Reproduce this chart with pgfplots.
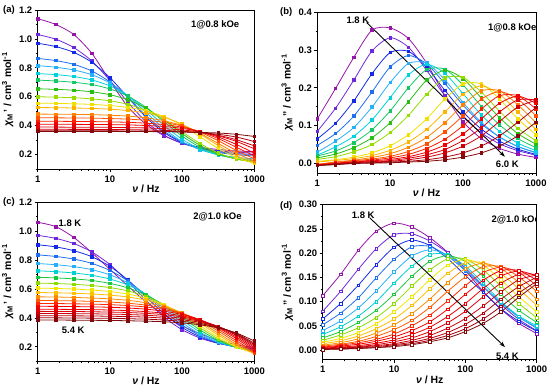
\documentclass[border=0pt]{standalone}
\usepackage{fontspec}
\setmainfont{Liberation Sans}
\usepackage{pgfplots}
\usepackage{pgfplotstable}
\pgfplotsset{compat=1.18}
\usetikzlibrary{arrows.meta}

\definecolor{ca1}{RGB}{150,20,170}\definecolor{ca2}{RGB}{110,40,220}\definecolor{ca3}{RGB}{20,40,230}
\definecolor{ca4}{RGB}{30,110,240}\definecolor{ca5}{RGB}{40,175,250}\definecolor{ca6}{RGB}{0,210,220}
\definecolor{ca7}{RGB}{20,200,100}\definecolor{ca8}{RGB}{40,190,20}\definecolor{ca9}{RGB}{150,220,0}
\definecolor{ca10}{RGB}{240,225,0}\definecolor{ca11}{RGB}{255,180,0}\definecolor{ca12}{RGB}{255,130,0}
\definecolor{ca13}{RGB}{255,80,0}\definecolor{ca14}{RGB}{250,30,0}\definecolor{ca15}{RGB}{240,0,0}
\definecolor{ca16}{RGB}{225,0,10}\definecolor{ca17}{RGB}{205,0,10}\definecolor{ca18}{RGB}{170,0,10}
\definecolor{ca19}{RGB}{130,10,10}

\definecolor{cc1}{RGB}{150,20,170}\definecolor{cc2}{RGB}{110,40,220}\definecolor{cc3}{RGB}{20,40,230}
\definecolor{cc4}{RGB}{30,110,240}\definecolor{cc5}{RGB}{40,175,250}\definecolor{cc6}{RGB}{0,210,210}
\definecolor{cc7}{RGB}{30,200,60}\definecolor{cc8}{RGB}{140,220,0}\definecolor{cc9}{RGB}{240,230,0}
\definecolor{cc10}{RGB}{255,190,0}\definecolor{cc11}{RGB}{255,140,0}\definecolor{cc12}{RGB}{255,90,0}
\definecolor{cc13}{RGB}{255,40,0}\definecolor{cc14}{RGB}{245,0,0}\definecolor{cc15}{RGB}{235,0,0}
\definecolor{cc16}{RGB}{220,0,10}\definecolor{cc17}{RGB}{205,0,10}\definecolor{cc18}{RGB}{185,0,10}
\definecolor{cc19}{RGB}{160,0,10}\definecolor{cc20}{RGB}{130,10,10}

\pgfplotstableread{
name f0 f1 f2 f3 f4 f5 f6 f7 f8 f9 f10 f11 f12
nu 1 1.778 3.162 5.623 10 17.78 31.62 56.23 100 177.8 316.2 562.3 1000
c1 1.140 1.100 1.030 0.900 0.710 0.530 0.410 0.330 0.280 0.250 0.235 0.225 0.220
c2 1.030 0.998 0.940 0.847 0.713 0.561 0.428 0.334 0.277 0.244 0.226 0.216 0.210
c3 0.970 0.947 0.907 0.838 0.732 0.595 0.458 0.352 0.283 0.243 0.220 0.207 0.200
c4 0.865 0.850 0.824 0.778 0.702 0.594 0.470 0.362 0.286 0.240 0.214 0.199 0.190
c5 0.815 0.804 0.785 0.752 0.695 0.606 0.492 0.379 0.290 0.233 0.200 0.181 0.170
c6 0.760 0.753 0.740 0.716 0.675 0.607 0.511 0.402 0.306 0.238 0.197 0.174 0.160
c7 0.715 0.709 0.700 0.684 0.654 0.604 0.527 0.427 0.328 0.250 0.200 0.171 0.155
c8 0.655 0.651 0.645 0.634 0.614 0.579 0.521 0.439 0.345 0.263 0.205 0.170 0.150
c9 0.600 0.597 0.593 0.585 0.572 0.547 0.506 0.441 0.358 0.276 0.211 0.169 0.145
c10 0.555 0.554 0.551 0.547 0.539 0.526 0.503 0.463 0.401 0.322 0.242 0.180 0.140
c11 0.525 0.524 0.522 0.519 0.514 0.504 0.488 0.458 0.410 0.341 0.262 0.193 0.145
c12 0.480 0.479 0.478 0.476 0.472 0.466 0.454 0.434 0.400 0.346 0.277 0.209 0.155
c13 0.455 0.454 0.453 0.452 0.449 0.445 0.437 0.422 0.397 0.355 0.296 0.229 0.170
c14 0.430 0.430 0.429 0.428 0.426 0.423 0.417 0.407 0.389 0.359 0.311 0.251 0.190
c15 0.410 0.410 0.409 0.408 0.407 0.405 0.401 0.394 0.381 0.359 0.322 0.270 0.210
c16 0.390 0.390 0.389 0.389 0.388 0.386 0.384 0.379 0.370 0.356 0.330 0.291 0.240
c17 0.375 0.375 0.374 0.374 0.373 0.372 0.370 0.367 0.361 0.351 0.333 0.303 0.260
c18 0.365 0.365 0.365 0.364 0.364 0.363 0.362 0.360 0.357 0.351 0.340 0.321 0.290
c19 0.360 0.360 0.360 0.360 0.359 0.359 0.359 0.358 0.356 0.353 0.349 0.340 0.325
}\rawA

\pgfplotstableread{
name f0 f1 f2 f3 f4 f5 f6 f7 f8 f9 f10 f11 f12
nu 1 1.778 3.162 5.623 10 17.78 31.62 56.23 100 177.8 316.2 562.3 1000
c1 0.118 0.198 0.280 0.352 0.358 0.330 0.265 0.180 0.110 0.066 0.040 0.025 0.016
c2 0.085 0.146 0.220 0.297 0.332 0.307 0.246 0.179 0.123 0.081 0.052 0.034 0.022
c3 0.065 0.106 0.165 0.237 0.293 0.296 0.254 0.193 0.136 0.091 0.059 0.038 0.024
c4 0.048 0.079 0.125 0.189 0.255 0.285 0.263 0.211 0.154 0.105 0.070 0.045 0.029
c5 0.030 0.059 0.095 0.149 0.214 0.264 0.265 0.221 0.161 0.109 0.070 0.045 0.028
c6 0.022 0.044 0.072 0.115 0.174 0.234 0.262 0.238 0.184 0.128 0.085 0.054 0.034
c7 0.020 0.033 0.055 0.089 0.139 0.200 0.248 0.249 0.207 0.151 0.102 0.066 0.042
c8 0.015 0.025 0.042 0.068 0.108 0.163 0.220 0.246 0.224 0.173 0.121 0.079 0.051
c9 0.011 0.018 0.031 0.050 0.082 0.127 0.183 0.226 0.227 0.189 0.138 0.093 0.060
c10 0.006 0.010 0.017 0.028 0.047 0.076 0.118 0.170 0.210 0.210 0.170 0.118 0.076
c11 0.004 0.008 0.013 0.021 0.035 0.057 0.090 0.136 0.183 0.205 0.183 0.136 0.090
c12 -0.002 0.004 0.009 0.016 0.026 0.043 0.069 0.108 0.155 0.192 0.192 0.155 0.108
c13 -0.003 0.003 0.007 0.012 0.019 0.032 0.052 0.084 0.126 0.170 0.190 0.170 0.126
c14 -0.003 0.001 0.005 0.009 0.015 0.024 0.040 0.064 0.100 0.144 0.179 0.179 0.144
c15 -0.004 0.000 0.004 0.007 0.011 0.018 0.030 0.049 0.078 0.118 0.159 0.178 0.159
c16 -0.004 -0.001 0.003 0.005 0.008 0.014 0.023 0.037 0.061 0.094 0.136 0.168 0.168
c17 -0.004 -0.002 0.002 0.004 0.006 0.010 0.017 0.028 0.046 0.073 0.111 0.149 0.167
c18 -0.005 -0.002 0.001 0.002 0.004 0.006 0.010 0.017 0.028 0.046 0.073 0.109 0.148
c19 -0.005 -0.003 0.000 0.001 0.002 0.004 0.006 0.010 0.017 0.028 0.046 0.073 0.109
}\rawB

\pgfplotstableread{
name f0 f1 f2 f3 f4 f5 f6 f7 f8 f9 f10 f11 f12
nu 1 1.778 3.162 5.623 10 17.78 31.62 56.23 100 177.8 316.2 562.3 1000
c1 1.060 1.030 0.955 0.850 0.735 0.620 0.510 0.420 0.345 0.290 0.245 0.215 0.195
c2 0.970 0.949 0.913 0.855 0.768 0.651 0.522 0.405 0.318 0.260 0.224 0.203 0.190
c3 0.905 0.890 0.864 0.822 0.756 0.661 0.545 0.429 0.334 0.268 0.226 0.200 0.185
c4 0.835 0.824 0.806 0.776 0.728 0.654 0.556 0.448 0.350 0.277 0.228 0.198 0.180
c5 0.775 0.767 0.754 0.733 0.697 0.642 0.562 0.465 0.367 0.287 0.232 0.196 0.175
c6 0.725 0.719 0.710 0.694 0.668 0.627 0.563 0.479 0.385 0.301 0.238 0.196 0.170
c7 0.680 0.676 0.669 0.658 0.638 0.607 0.558 0.488 0.402 0.316 0.245 0.196 0.165
c8 0.640 0.637 0.632 0.623 0.609 0.586 0.548 0.491 0.415 0.331 0.255 0.198 0.160
c9 0.605 0.603 0.599 0.592 0.582 0.564 0.535 0.490 0.425 0.345 0.266 0.201 0.155
c10 0.575 0.573 0.570 0.565 0.557 0.544 0.522 0.486 0.432 0.361 0.281 0.209 0.155
c11 0.545 0.544 0.541 0.537 0.531 0.521 0.504 0.477 0.433 0.371 0.294 0.218 0.155
c12 0.520 0.519 0.517 0.514 0.509 0.501 0.488 0.467 0.432 0.379 0.309 0.230 0.160
c13 0.500 0.499 0.497 0.495 0.491 0.485 0.475 0.458 0.429 0.385 0.321 0.243 0.165
c14 0.480 0.479 0.478 0.476 0.473 0.468 0.460 0.446 0.423 0.387 0.331 0.257 0.175
c15 0.460 0.459 0.458 0.457 0.454 0.450 0.443 0.432 0.414 0.384 0.336 0.268 0.185
c16 0.445 0.444 0.444 0.442 0.440 0.437 0.431 0.422 0.406 0.381 0.340 0.278 0.195
c17 0.430 0.430 0.429 0.428 0.426 0.423 0.418 0.410 0.397 0.376 0.340 0.285 0.205
c18 0.415 0.415 0.414 0.413 0.411 0.409 0.405 0.398 0.387 0.369 0.338 0.289 0.215
c19 0.400 0.400 0.399 0.398 0.397 0.394 0.391 0.385 0.376 0.360 0.334 0.292 0.225
c20 0.385 0.385 0.384 0.383 0.382 0.380 0.377 0.373 0.365 0.352 0.331 0.296 0.240
}\rawC

\pgfplotstableread{
name f0 f1 f2 f3 f4 f5 f6 f7 f8 f9 f10 f11 f12
nu 1 1.778 3.162 5.623 10 17.78 31.62 56.23 100 177.8 316.2 562.3 1000
c1 0.112 0.156 0.206 0.245 0.262 0.254 0.232 0.202 0.164 0.121 0.084 0.055 0.034
c2 0.080 0.121 0.167 0.209 0.238 0.240 0.225 0.201 0.169 0.132 0.094 0.063 0.040
c3 0.064 0.096 0.134 0.176 0.212 0.227 0.216 0.189 0.154 0.119 0.085 0.059 0.039
c4 0.052 0.076 0.108 0.149 0.187 0.213 0.214 0.194 0.164 0.130 0.097 0.068 0.045
c5 0.040 0.060 0.087 0.122 0.161 0.194 0.207 0.196 0.166 0.131 0.098 0.068 0.047
c6 0.032 0.048 0.070 0.100 0.138 0.173 0.197 0.197 0.173 0.138 0.100 0.070 0.050
c7 0.025 0.038 0.057 0.082 0.115 0.152 0.183 0.195 0.183 0.152 0.115 0.082 0.057
c8 0.020 0.031 0.046 0.067 0.096 0.132 0.165 0.188 0.188 0.165 0.132 0.096 0.067
c9 0.016 0.024 0.036 0.054 0.079 0.110 0.145 0.175 0.187 0.175 0.145 0.110 0.079
c10 0.013 0.019 0.029 0.044 0.064 0.092 0.126 0.158 0.180 0.180 0.158 0.126 0.092
c11 0.010 0.015 0.023 0.035 0.052 0.075 0.105 0.139 0.168 0.179 0.168 0.139 0.105
c12 0.008 0.012 0.018 0.028 0.042 0.061 0.088 0.121 0.151 0.172 0.172 0.151 0.121
c13 0.006 0.010 0.015 0.022 0.033 0.050 0.072 0.101 0.133 0.160 0.171 0.160 0.133
c14 0.005 0.008 0.012 0.018 0.027 0.040 0.058 0.084 0.115 0.144 0.164 0.164 0.144
c15 0.004 0.006 0.009 0.014 0.021 0.032 0.047 0.069 0.096 0.127 0.153 0.163 0.153
c16 0.003 0.005 0.007 0.011 0.017 0.025 0.038 0.056 0.080 0.110 0.138 0.156 0.156
c17 0.002 0.004 0.006 0.009 0.013 0.020 0.030 0.045 0.065 0.091 0.120 0.145 0.155
c18 0.002 0.003 0.005 0.007 0.011 0.016 0.024 0.036 0.053 0.076 0.105 0.131 0.150
c19 0.002 0.002 0.004 0.005 0.009 0.013 0.020 0.030 0.044 0.064 0.090 0.118 0.142
c20 0.001 0.002 0.003 0.005 0.007 0.011 0.017 0.025 0.038 0.055 0.079 0.109 0.137
}\rawD

\pgfplotstabletranspose[colnames from=name]\tabA\rawA
\pgfplotstabletranspose[colnames from=name]\tabB\rawB
\pgfplotstabletranspose[colnames from=name]\tabC\rawC
\pgfplotstabletranspose[colnames from=name]\tabD\rawD

\pgfplotsset{
  every axis/.append style={
    scale only axis,
    tick align=outside, tick pos=left,
    axis line style={line width=0.9pt},
    major tick length=3pt, minor tick length=1.8pt,
    every tick/.append style={black, line width=0.7pt},
    tick label style={font=\bfseries\fontsize{9.5}{10}\selectfont},
    yticklabel style={xshift=1pt},
    label style={font=\bfseries\fontsize{10.5}{12}\selectfont},
    xlabel style={yshift=4pt},
    ylabel style={yshift=-1pt},
  },
  every axis plot/.append style={line width=0.8pt, smooth, tension=0.45},
}
\newcommand{\annfont}{\bfseries\fontsize{9.5}{10}\selectfont}

\begin{document}
\begin{tikzpicture}
\useasboundingbox (0,0) rectangle (550bp,387bp);

% (a)
\begin{axis}[at={(37.7bp,218bp)}, anchor=south west,
  width=216.6bp, height=159bp,
  xmode=log, xmin=1, xmax=1000,
  xtick={1,10,100,1000}, xticklabels={1,10,100,1000},
  xlabel={\textit{ν} / Hz},
  ymin=0.1, ymax=1.2,
  ytick={0.2,0.4,0.6,0.8,1.0,1.2}, yticklabels={0.2,0.4,0.6,0.8,1.0,1.2},
  minor ytick={0.1,0.3,0.5,0.7,0.9,1.1},
  ylabel={\textit{χ}\textsubscript{M}\,' / cm\textsuperscript{3} mol\textsuperscript{-1}}]
\pgfplotsinvokeforeach{1,...,19}{
  \addplot[color=ca#1, mark=square*, mark size=1.3pt, mark options={fill=ca#1}] table[x=nu, y=c#1] {\tabA};
}
\node[font=\annfont] at (axis cs:287,1.097) {1@0.8 kOe};
\end{axis}

% (b)
\begin{axis}[at={(317.3bp,214bp)}, anchor=south west,
  width=218.7bp, height=161bp,
  xmode=log, xmin=1, xmax=1000,
  xtick={1,10,100,1000}, xticklabels={1,10,100,1000},
  xlabel={\textit{ν} / Hz},
  ymin=-0.025, ymax=0.4,
  ytick={0,0.1,0.2,0.3,0.4}, yticklabels={0.0,0.1,0.2,0.3,0.4},
  minor ytick={0.05,0.15,0.25,0.35},
  ylabel={\textit{χ}\textsubscript{M}\,'' / cm\textsuperscript{3} mol\textsuperscript{-1}}]
\pgfplotsinvokeforeach{1,...,19}{
  \addplot[color=ca#1, mark=square*, mark size=1.3pt, mark options={fill=ca#1}] table[x=nu, y=c#1] {\tabB};
}
\draw[-{Stealth[length=6pt,width=4pt]}, line width=0.9pt] (axis cs:4.76,0.372) -- (axis cs:375,0.018);
\node[font=\annfont] at (axis cs:3.6,0.377) {1.8 K};
\node[font=\annfont] at (axis cs:473,0.357) {1@0.8 kOe};
\node[font=\annfont] at (axis cs:404,-0.002) {6.0 K};
\end{axis}

% (c)
\begin{axis}[at={(37.7bp,25.7bp)}, anchor=south west,
  width=216.6bp, height=159.3bp,
  xmode=log, xmin=1, xmax=1000,
  xtick={1,10,100,1000}, xticklabels={1,10,100,1000},
  xlabel={\textit{ν} / Hz},
  ymin=0.1, ymax=1.2,
  ytick={0.2,0.4,0.6,0.8,1.0,1.2}, yticklabels={0.2,0.4,0.6,0.8,1.0,1.2},
  minor ytick={0.1,0.3,0.5,0.7,0.9,1.1},
  ylabel={\textit{χ}\textsubscript{M}\,' / cm\textsuperscript{3} mol\textsuperscript{-1}}]
\pgfplotsinvokeforeach{1,...,20}{
  \addplot[color=cc#1, mark=square*, mark size=1.3pt, mark options={fill=cc#1}] table[x=nu, y=c#1] {\tabC};
}
\node[font=\annfont] at (axis cs:2.8,1.05) {1.8 K};
\node[font=\annfont] at (axis cs:309,1.097) {2@1.0 kOe};
\node[font=\annfont] at (axis cs:3.1,0.317) {5.4 K};
\end{axis}

% (d)
\begin{axis}[at={(322.7bp,27.3bp)}, anchor=south west,
  width=214bp, height=155bp,
  xmode=log, xmin=1, xmax=1000,
  xtick={1,10,100,1000}, xticklabels={1,10,100,1000},
  xlabel={\textit{ν} / Hz},
  ymin=-0.02, ymax=0.30,
  ytick={0,0.05,0.10,0.15,0.20,0.25,0.30},
  yticklabels={0.00,0.05,0.10,0.15,0.20,0.25,0.30},
  minor ytick={0.025,0.075,0.125,0.175,0.225,0.275},
  ylabel={\textit{χ}\textsubscript{M}\,'' / cm\textsuperscript{3} mol\textsuperscript{-1}}]
\pgfplotsinvokeforeach{1,...,20}{
  \addplot[color=cc#1, mark=square*, mark size=1.3pt, mark options={fill=white, line width=0.6pt}] table[x=nu, y=c#1] {\tabD};
}
\draw[-{Stealth[length=6pt,width=4pt]}, line width=0.9pt] (axis cs:4.6,0.2725) -- (axis cs:360,0.006);
\node[font=\annfont] at (axis cs:3.7,0.278) {1.8 K};
\node[font=\annfont] at (axis cs:508,0.268) {2@1.0 kOe};
\node[font=\annfont] at (axis cs:388,-0.012) {5.4 K};
\end{axis}

\node[anchor=west, inner sep=0pt, font=\bfseries\fontsize{9.5}{10}\selectfont] at (3bp,377bp) {(a)};
\node[anchor=west, inner sep=0pt, font=\bfseries\fontsize{9.5}{10}\selectfont] at (280bp,375bp) {(b)};
\node[anchor=west, inner sep=0pt, font=\bfseries\fontsize{9.5}{10}\selectfont] at (3bp,185bp) {(c)};
\node[anchor=west, inner sep=0pt, font=\bfseries\fontsize{9.5}{10}\selectfont] at (280bp,181bp) {(d)};
\end{tikzpicture}
\end{document}
